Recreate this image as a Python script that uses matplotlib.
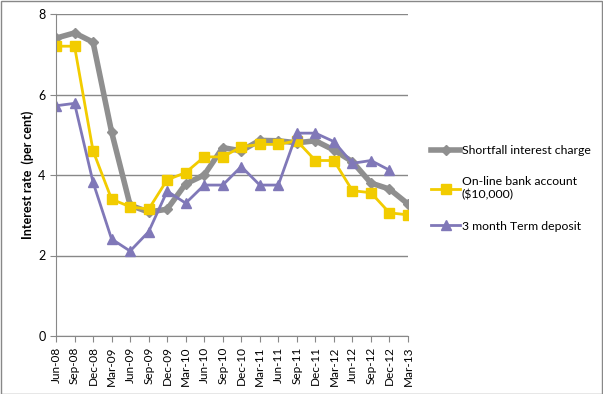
import matplotlib
matplotlib.use('Agg')
import matplotlib.pyplot as plt
import numpy as np

plt.rcParams['font.family'] = ['Lato', 'DejaVu Sans']

quarters = ['Jun-08', 'Sep-08', 'Dec-08', 'Mar-09', 'Jun-09', 'Sep-09', 'Dec-09',
            'Mar-10', 'Jun-10', 'Sep-10', 'Dec-10', 'Mar-11', 'Jun-11', 'Sep-11',
            'Dec-11', 'Mar-12', 'Jun-12', 'Sep-12', 'Dec-12', 'Mar-13']

shortfall = [7.40, 7.53, 7.30, 5.07, 3.25, 3.08, 3.15, 3.78, 4.00, 4.68,
             4.60, 4.86, 4.85, 4.80, 4.85, 4.62, 4.33, 3.80, 3.65, 3.28]
online = [7.20, 7.20, 4.60, 3.40, 3.21, 3.15, 3.88, 4.06, 4.45, 4.45,
          4.70, 4.76, 4.76, 4.85, 4.36, 4.36, 3.61, 3.56, 3.06, 3.01]
term = [5.72, 5.78, 3.82, 2.41, 2.11, 2.59, 3.60, 3.30, 3.75, 3.75,
        4.21, 3.75, 3.75, 5.04, 5.04, 4.83, 4.29, 4.36, 4.12, np.nan]

x = np.arange(len(quarters))

fig = plt.figure(figsize=(6.03, 3.94), dpi=100)
ax = fig.add_axes([56/603, 58/394, 352/603, 322/394])

ax.plot(x, shortfall, color='#8f8f8f', lw=4, marker='D', ms=5.5, label='Shortfall interest charge')
ax.plot(x, online, color='#f2cc00', lw=2, marker='s', ms=6.5, label='On-line bank account\n($10,000)')
ax.plot(x, term, color='#8078b8', lw=2, marker='^', ms=7, label='3 month Term deposit')

ax.set_xlim(0, len(quarters) - 1)
ax.set_ylim(0, 8)
ax.set_yticks([0, 2, 4, 6, 8])
ax.set_xticks(x)
ax.set_xticklabels(quarters, rotation=90, fontsize=8.5)
ax.tick_params(axis='y', labelsize=9, color='#888888', length=4)
ax.tick_params(axis='x', color='#888888', length=4)
ax.grid(axis='y', color='#888888', lw=1)
ax.set_axisbelow(True)
for s in ['top', 'right']:
    ax.spines[s].set_visible(False)
for s in ['left', 'bottom']:
    ax.spines[s].set_color('#888888')
ax.set_ylabel('Interest rate  (per cent)', fontsize=9, fontweight='bold', labelpad=3)

fig.legend(loc='center left', bbox_to_anchor=(420/603, 0.522), frameon=False,
           fontsize=8.8, handlelength=2.4, labelspacing=1.65, handletextpad=0.1)

fig.patches.append(plt.Rectangle((0.001, 0.001), 0.997, 0.997, transform=fig.transFigure,
                                 fill=False, edgecolor='#888888', lw=1))

fig.savefig('out.png', dpi=100)
